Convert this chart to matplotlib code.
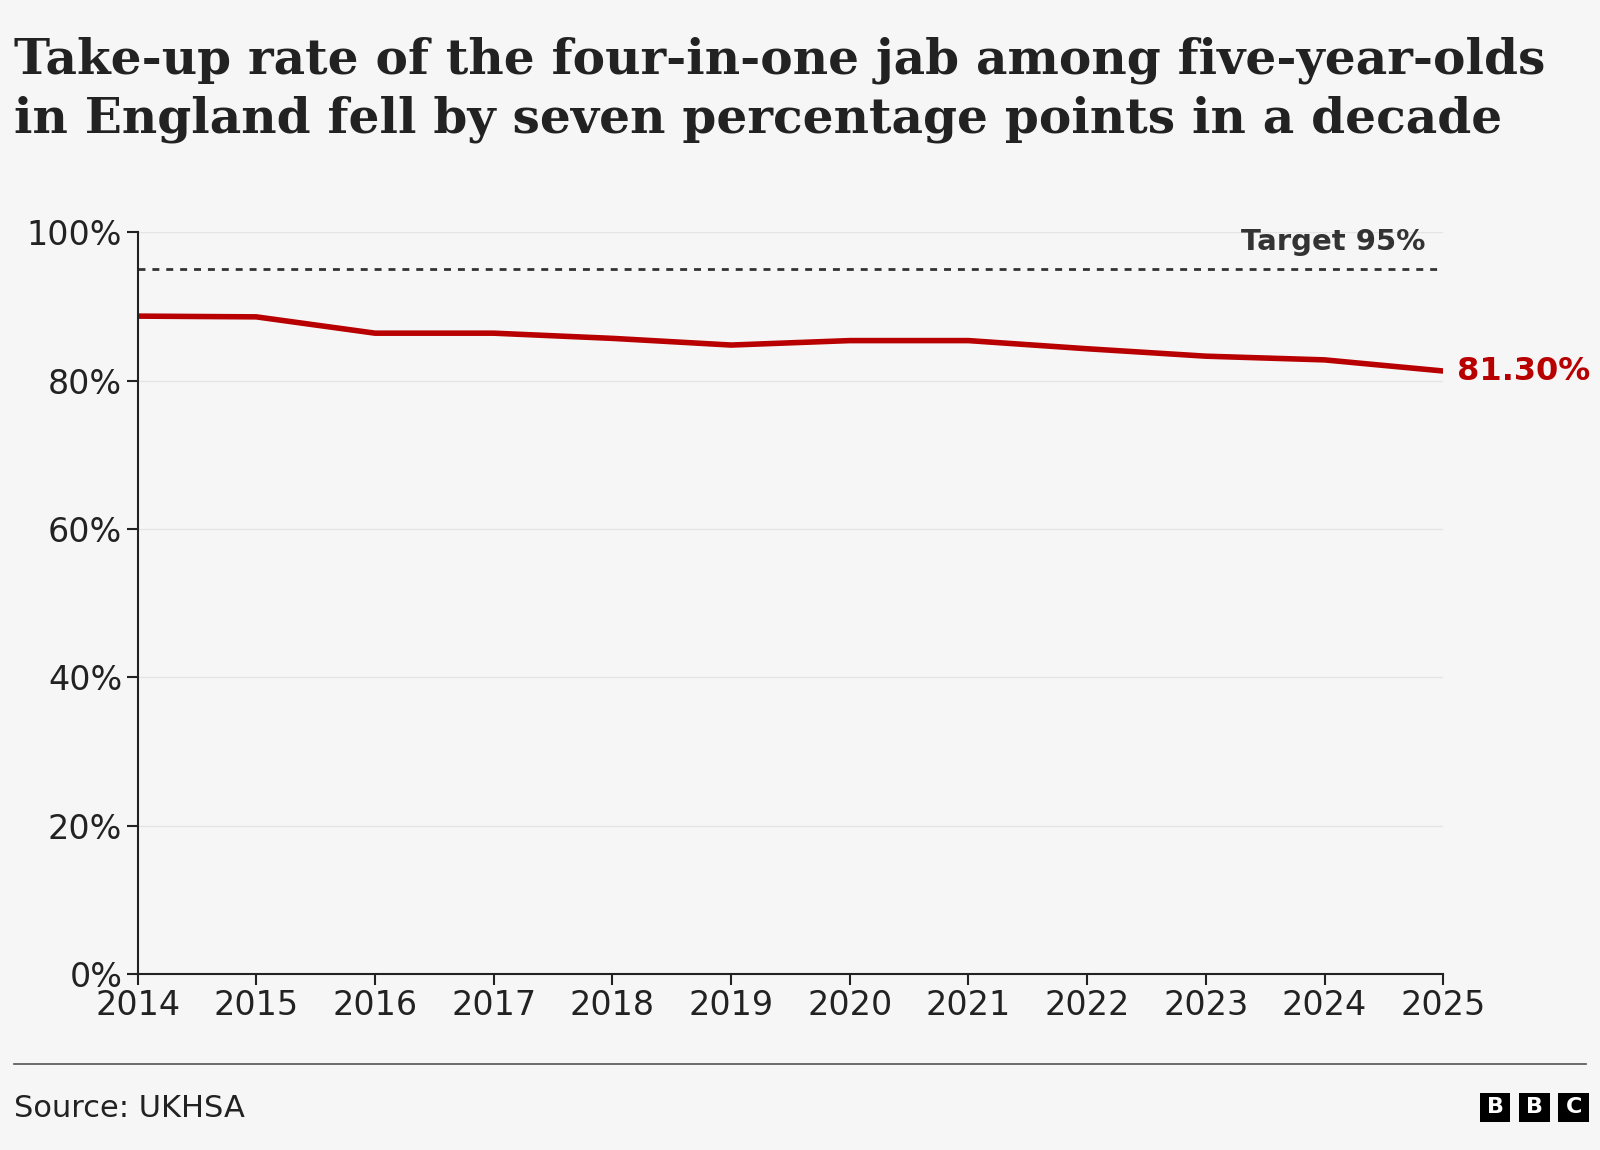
import matplotlib
matplotlib.use("Agg")
import matplotlib.pyplot as plt

years = [2014, 2015, 2016, 2017, 2018, 2019, 2020, 2021, 2022, 2023, 2024, 2025]
rates = [88.7, 88.6, 86.4, 86.4, 85.7, 84.8, 85.4, 85.4, 84.3, 83.3, 82.8, 81.3]
target = 95
yticks = [0, 20, 40, 60, 80, 100]

bg = "#f6f6f6"
fig = plt.figure(figsize=(16, 11.5), dpi=100, facecolor=bg)
ax = fig.add_axes([0.086, 0.153, 0.816, 0.645], facecolor=bg)

ax.plot(years, rates, color="#b80000", lw=4, solid_capstyle="butt")
ax.axhline(target, color="#333333", lw=2, ls=(0, (2.5, 2.5)))
ax.text(years[-1] - 0.15, target + 1.8, "Target 95%", ha="right", va="bottom",
        fontsize=21, fontweight="bold", color="#333333")
ax.text(years[-1] + 0.12, rates[-1], f"{rates[-1]:.2f}%", ha="left", va="center",
        fontsize=23, fontweight="bold", color="#b80000", clip_on=False)

ax.set_xlim(years[0], years[-1])
ax.set_ylim(0, 100)
ax.set_xticks(years)
ax.set_xticklabels([str(y) for y in years])
ax.set_yticks(yticks)
ax.set_yticklabels([f"{t}%" for t in yticks])
ax.grid(axis="y", color="#e4e4e4", lw=1)
ax.set_axisbelow(True)
for s in ["top", "right"]:
    ax.spines[s].set_visible(False)
for s in ["left", "bottom"]:
    ax.spines[s].set_color("#222222")
    ax.spines[s].set_linewidth(1.5)
ax.tick_params(axis="both", labelsize=24, colors="#222222", length=8, width=1.5)
ax.tick_params(axis="x", pad=3)
ax.tick_params(axis="y", pad=3)

fig.text(0.009, 0.968, "Take-up rate of the four-in-one jab among five-year-olds\nin England fell by seven percentage points in a decade",
         ha="left", va="top", fontsize=35, fontweight="bold", family="DejaVu Serif",
         color="#222222", linespacing=1.3)

fig.add_artist(plt.Line2D([0.009, 0.991], [0.075, 0.075], color="#555555", lw=1.2))
fig.text(0.009, 0.036, "Source: UKHSA", ha="left", va="center", fontsize=22, color="#222222")
for i, ch in enumerate("BBC"):
    x = 0.925 + i * 0.0245
    fig.patches.append(plt.Rectangle((x, 0.024), 0.019, 0.026, transform=fig.transFigure,
                                     facecolor="black", figure=fig))
    fig.text(x + 0.0095, 0.037, ch, ha="center", va="center", fontsize=16,
             fontweight="bold", color="white")

fig.savefig("out.png", dpi=100, facecolor=bg)
